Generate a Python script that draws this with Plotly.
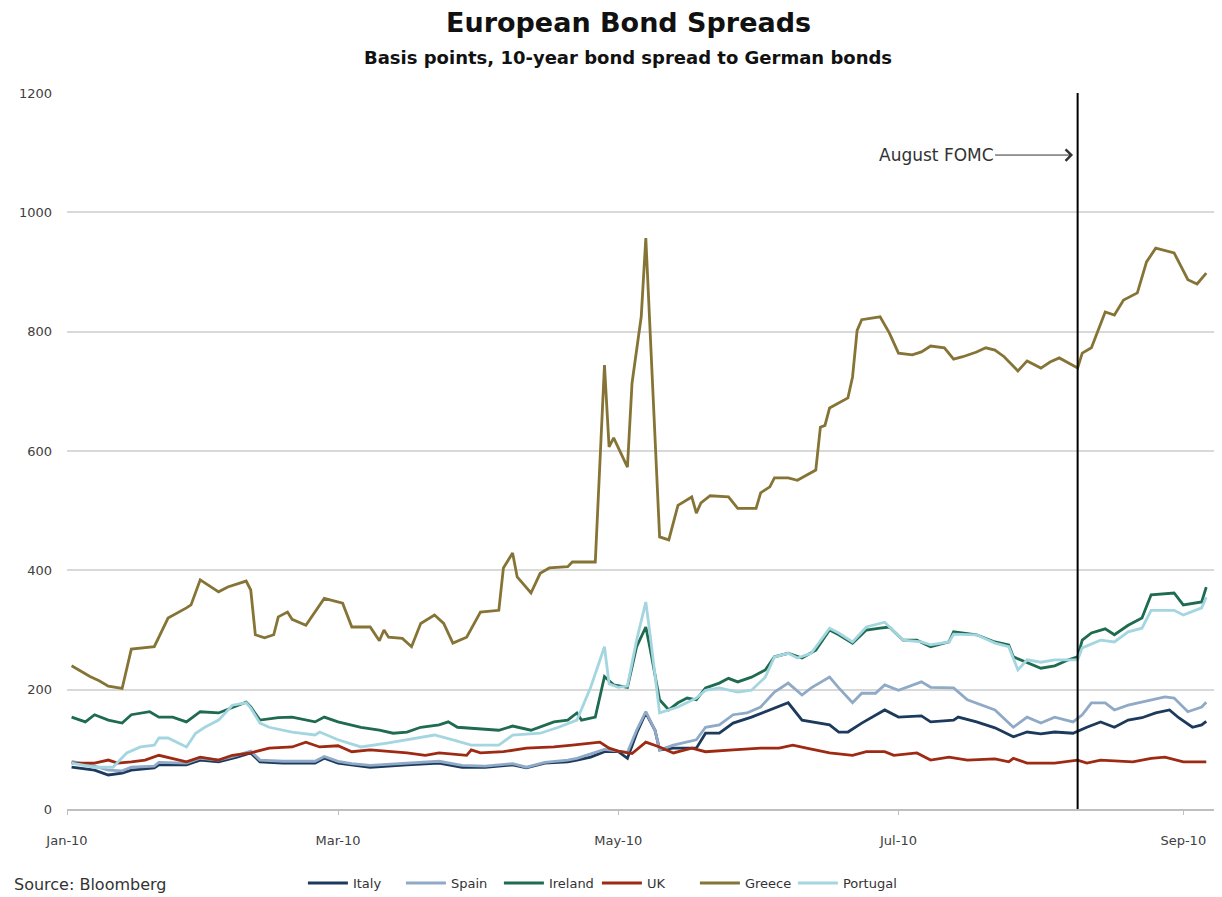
import plotly.graph_objects as go

YEAR = "2010"

# ---- data (month-day, basis points) ----
italy_dates = ["01-02","01-07","01-10","01-13","01-15","01-20","01-21","01-27","01-30","02-03","02-07","02-10","02-12","02-17","02-24","02-26","03-01","03-04","03-08","03-16","03-23","03-28","04-02","04-08","04-11","04-15","04-20","04-22","04-25","04-28","05-01","05-03","05-05","05-07","05-09","05-10","05-13","05-18","05-20","05-23","05-26","05-30","06-04","06-07","06-10","06-14","06-16","06-18","06-20","06-23","06-26","06-28","07-01","07-06","07-08","07-13","07-14","07-18","07-22","07-26","07-29","08-01","08-04","08-08","08-11","08-14","08-17","08-20","08-23","08-26","08-29","08-31","09-03","09-05","09-06"]
italy = [70,65,57,60,65,69,74,74,82,79,87,94,79,77,77,85,77,74,70,74,77,70,70,74,69,77,79,82,87,96,96,85,127,161,132,99,102,102,127,127,144,154,169,178,149,144,141,129,129,144,158,166,154,156,146,149,154,146,136,121,129,126,129,127,137,146,137,149,153,161,166,153,137,141,147]

spain_dates = ["01-02","01-07","01-10","01-13","01-15","01-20","01-21","01-27","01-30","02-03","02-07","02-10","02-12","02-17","02-24","02-26","03-01","03-04","03-08","03-16","03-23","03-28","04-02","04-08","04-11","04-15","04-20","04-22","04-25","04-28","05-01","05-03","05-05","05-07","05-09","05-10","05-13","05-16","05-18","05-20","05-23","05-26","05-29","06-01","06-04","06-07","06-10","06-12","06-16","06-18","06-21","06-23","06-26","06-28","07-01","07-06","07-08","07-13","07-16","07-22","07-26","07-29","08-01","08-04","08-08","08-10","08-12","08-15","08-17","08-20","08-25","08-28","08-30","09-02","09-05","09-06"]
spain = [80,72,65,64,70,72,78,77,85,82,90,97,82,80,80,88,80,76,73,77,80,73,72,76,70,78,82,85,92,100,97,95,132,163,132,99,107,112,116,137,141,158,161,171,196,211,191,203,221,203,178,194,194,208,199,213,204,203,183,166,137,154,144,154,146,158,178,178,166,174,183,188,186,163,171,179]

ireland_dates = ["01-02","01-05","01-07","01-10","01-13","01-15","01-19","01-21","01-24","01-27","01-30","02-03","02-06","02-09","02-10","02-12","02-16","02-19","02-24","02-26","03-01","03-06","03-10","03-13","03-16","03-19","03-23","03-25","03-27","04-01","04-05","04-08","04-12","04-17","04-20","04-22","04-23","04-26","04-28","04-30","05-01","05-03","05-05","05-07","05-08","05-10","05-12","05-14","05-16","05-18","05-20","05-23","05-25","05-27","05-30","06-02","06-04","06-07","06-10","06-13","06-16","06-18","06-21","06-24","06-27","06-29","07-02","07-05","07-08","07-12","07-13","07-18","07-22","07-25","07-26","07-29","08-01","08-04","08-07","08-09","08-10","08-12","08-15","08-17","08-20","08-23","08-25","08-30","09-01","09-05","09-06"]
ireland = [154,146,158,149,144,158,163,154,154,146,163,161,170,179,171,149,153,154,146,154,146,137,132,127,129,137,141,146,137,134,132,139,132,146,149,161,149,154,222,208,207,204,272,305,266,183,166,178,186,183,203,211,219,213,221,233,255,261,253,266,300,292,278,300,303,305,283,283,272,280,297,292,280,275,255,245,236,240,250,255,283,295,302,292,308,320,359,362,342,347,372]

uk_dates = ["01-02","01-07","01-10","01-12","01-15","01-18","01-21","01-24","01-27","01-30","02-03","02-06","02-10","02-14","02-19","02-22","02-25","03-01","03-04","03-08","03-16","03-20","03-23","03-29","03-30","04-01","04-06","04-11","04-17","04-21","04-25","04-27","04-29","05-01","05-04","05-07","05-10","05-13","05-17","05-20","05-26","06-01","06-05","06-08","06-11","06-16","06-21","06-24","06-28","06-30","07-05","07-08","07-12","07-16","07-22","07-25","07-26","07-29","08-04","08-09","08-11","08-14","08-21","08-25","08-28","09-01","09-06"]
uk = [77,77,82,77,79,82,90,85,79,87,82,90,94,102,104,112,104,106,96,99,94,90,94,90,99,94,96,102,104,107,111,112,102,97,93,112,104,94,102,96,99,102,102,107,102,94,90,96,96,90,94,82,87,82,84,79,85,77,77,82,77,82,79,85,87,79,79]

greece_dates = ["01-02","01-06","01-08","01-10","01-13","01-15","01-20","01-23","01-27","01-28","01-30","02-03","02-05","02-09","02-10","02-11","02-13","02-15","02-16","02-18","02-19","02-22","02-26","03-02","03-04","03-08","03-10","03-11","03-12","03-15","03-17","03-19","03-22","03-24","03-26","03-29","04-01","04-05","04-06","04-08","04-09","04-12","04-14","04-16","04-20","04-21","04-26","04-28","04-29","04-30","05-03","05-04","05-06","05-07","05-10","05-12","05-14","05-17","05-18","05-19","05-21","05-25","05-27","05-31","06-01","06-03","06-04","06-07","06-09","06-11","06-13","06-14","06-15","06-16","06-20","06-21","06-22","06-23","06-27","06-29","07-01","07-04","07-06","07-08","07-11","07-13","07-15","07-18","07-20","07-22","07-24","07-27","07-29","08-01","08-03","08-05","08-09","08-10","08-12","08-15","08-17","08-19","08-22","08-24","08-26","08-30","09-02","09-04","09-06"]
greece = [240,222,215,206,202,268,272,320,337,342,384,364,372,382,367,292,287,292,322,330,318,308,353,345,305,305,282,300,288,286,272,311,325,311,278,288,330,333,404,429,389,362,395,404,406,414,414,744,607,622,573,714,825,957,456,451,509,523,496,513,525,523,504,504,530,540,555,555,551,560,568,640,643,672,689,724,802,820,825,798,764,761,766,776,773,754,758,766,773,769,758,734,751,739,749,756,739,764,773,833,828,853,865,917,940,932,887,880,898]

portugal_dates = ["01-02","01-07","01-11","01-14","01-17","01-20","01-21","01-23","01-27","01-29","01-31","02-03","02-06","02-09","02-10","02-12","02-14","02-19","02-24","02-25","03-01","03-06","03-12","03-16","03-22","03-26","03-30","04-05","04-08","04-14","04-18","04-22","04-25","04-28","04-29","05-01","05-03","05-05","05-07","05-08","05-10","05-14","05-18","05-20","05-23","05-27","05-30","06-02","06-04","06-07","06-09","06-12","06-16","06-18","06-21","06-24","06-28","07-02","07-06","07-08","07-12","07-13","07-18","07-22","07-25","07-27","07-29","08-01","08-04","08-09","08-10","08-14","08-17","08-20","08-23","08-25","08-30","09-01","09-05","09-06"]
portugal = [77,70,70,94,104,107,119,119,104,127,137,149,174,178,169,144,137,129,124,129,116,104,111,116,124,116,107,107,124,127,137,149,204,272,210,204,206,283,347,288,161,171,186,199,203,196,199,221,255,261,253,261,303,295,280,305,313,283,280,275,280,293,292,278,272,233,250,246,250,250,270,283,280,297,303,333,333,325,337,355]

series_names = ["Italy", "Spain", "Ireland", "UK", "Greece", "Portugal"]
series_colors = ["#1B3A5C", "#8FA9C6", "#1E6B50", "#9E2A14", "#857435", "#A3D6E0"]

tick_dates = ["01-01", "03-01", "05-01", "07-01", "09-01"]
tick_labels = ["Jan-10", "Mar-10", "May-10", "Jul-10", "Sep-10"]
y_ticks = [0, 200, 400, 600, 800, 1000, 1200]

fomc_date = "08-09"

# ---- figure ----
def full(ds):
    return [YEAR + "-" + d for d in ds]

all_dates = [italy_dates, spain_dates, ireland_dates, uk_dates, greece_dates, portugal_dates]
all_vals = [italy, spain, ireland, uk, greece, portugal]

FONT = "DejaVu Sans"
fig = go.Figure()
for name, d, v, c in zip(series_names, all_dates, all_vals, series_colors):
    fig.add_trace(go.Scatter(x=full(d), y=v, name=name, mode="lines",
                             line=dict(color=c, width=2.8)))

# empty, invisible legend slot so the last legend label is not clipped
fig.add_trace(go.Scatter(x=[None], y=[None], name=" ", mode="lines",
                         line=dict(color="rgba(0,0,0,0)"), hoverinfo="skip"))

fig.add_shape(type="line", xref="x", yref="paper",
              x0=YEAR + "-" + fomc_date, x1=YEAR + "-" + fomc_date, y0=0, y1=1,
              line=dict(color="black", width=2))

fig.add_annotation(x=YEAR + "-08-08", y=1096, xref="x", yref="y",
                   text="August FOMC", showarrow=True, ax=-137, ay=0,
                   axref="pixel", ayref="pixel",
                   arrowhead=4, arrowsize=2.2, arrowwidth=1, arrowcolor="#333333",
                   font=dict(family=FONT, size=17, color="#333333"))

fig.add_annotation(x=0.4887, y=1.099, xref="paper", yref="paper",
                   text="<b>European Bond Spreads</b>", showarrow=False,
                   font=dict(family=FONT, size=27, color="#111111"),
                   xanchor="center", yanchor="middle")
fig.add_annotation(x=0.4887, y=1.049, xref="paper", yref="paper",
                   text="<b>Basis points, 10-year bond spread to German bonds</b>", showarrow=False,
                   font=dict(family=FONT, size=18, color="#111111"),
                   xanchor="center", yanchor="middle")
fig.add_annotation(x=-0.0479, y=-0.106, xref="paper", yref="paper",
                   text="Source: Bloomberg", showarrow=False,
                   font=dict(family=FONT, size=16, color="#333333"),
                   xanchor="left", yanchor="middle")

# figure sized so that, with the page's 8px body margin, it fills the 1222x897 window
fig.update_layout(
    width=1214, height=889,
    margin=dict(l=59, r=7, t=85, b=88),
    paper_bgcolor="white", plot_bgcolor="white",
    font=dict(family=FONT, size=13, color="#404040"),
    showlegend=True,
    legend=dict(orientation="h", x=0.2055, xanchor="left",
                yref="container", y=0.0157, yanchor="middle",
                font=dict(family=FONT, size=13, color="#333333"),
                bgcolor="rgba(0,0,0,0)", itemwidth=40,
                entrywidth=43, entrywidthmode="pixels"),
    xaxis=dict(type="date", range=[YEAR + "-01-01", YEAR + "-09-07 21:40"],
               tickvals=full(tick_dates), ticktext=tick_labels,
               showgrid=False, showline=True, linecolor="#BFBFBF", linewidth=1.5,
               ticks="outside", ticklen=4, tickcolor="#BFBFBF",
               ticklabelstandoff=15, tickfont=dict(size=13, color="#404040"),
               zeroline=False),
    yaxis=dict(range=[0, 1200], tickvals=y_ticks,
               showgrid=True, gridcolor="#D9D9D9", gridwidth=1.5,
               zeroline=False, showline=False, ticks="",
               ticklabelstandoff=14, tickfont=dict(size=13, color="#404040")),
)

fig.write_html("out.html")
